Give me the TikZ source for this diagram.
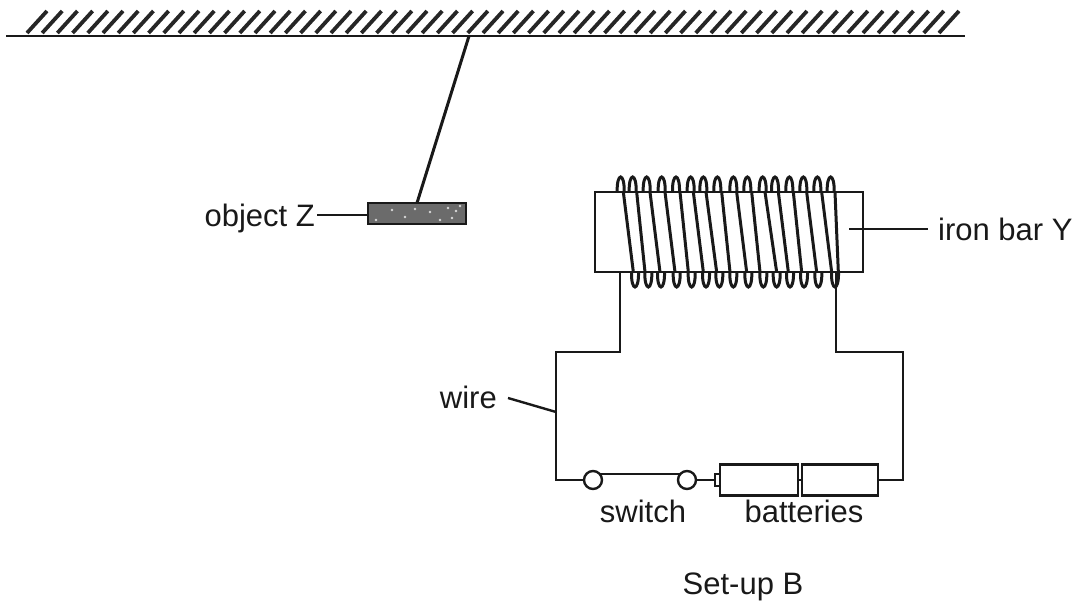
\documentclass[tikz,border=0pt]{standalone}
\usepackage{fontspec}
\setmainfont{Liberation Sans}
\tikzset{
  ink/.style={line width=2.4pt,draw=black!90},
  hatchline/.style={line width=3.8pt,draw=black!85},
  coilline/.style={line width=3pt,draw=black!90},
  lbl/.style={inner sep=0pt,text=black!90,font=\fontsize{31}{33}\selectfont},
  boxshape/.style={draw=black!90,line width=2.4pt,fill=white,inner sep=0pt,outer sep=0pt,rectangle},
  swnode/.style={draw=black!90,line width=2.4pt,circle,minimum size=18pt,inner sep=0pt,outer sep=0pt},
}
\begin{document}
\begin{tikzpicture}[x=1pt,y=-1pt]
\useasboundingbox (0,0) rectangle (1080,604);
% ceiling
\coordinate (ceilL) at (6,36);
\coordinate (ceilR) at (965,36);
\coordinate (hang) at (469,36);
\draw[ink] (ceilL) -- (ceilR);
\foreach \i in {0,...,60} {
  \draw[hatchline] ({27+\i*15.2},33) -- ({47+\i*15.2},11);
}
% object Z
\node[boxshape,fill=black!58,minimum width=98pt,minimum height=21pt,anchor=north west] (Z) at (368,203) {};
\foreach \a/\b in {448/208,456/211,452/218,460/206,376/220,405/217,430/212,392/210,415/209,440/220}
  \fill[white!85!black] (\a,\b) circle (1.3pt);
\coordinate (Ztop) at (417,203);
\draw[line width=3pt,draw=black!90] (hang) -- (Ztop);
\node[lbl,anchor=east] (objZ) at (315,218) {object Z};
\coordinate (Zleft) at (368,215);
\coordinate (objZend) at (317,215);
\draw[ink] (objZend) -- (Zleft);
% iron bar
\node[boxshape,minimum width=268pt,minimum height=80pt,anchor=north west] (bar) at (595,192) {};
% coil loops above and below the bar
\foreach \t in {122,158,200,245,288,332,370,412,460,502,548,585,628,670,712,752} {
  \draw[coilline] ({580+\t/3-3.5},192) .. controls ({580+\t/3-4},172) and ({580+\t/3+4},172) .. ({580+\t/3+3.5},192);
}
\foreach \b in {165,205,243,290,335,378,418,460,505,550,590,630,672,715,765} {
  \draw[coilline] ({580+\b/3-3.5},272) .. controls ({580+\b/3-4},292) and ({580+\b/3+4},292) .. ({580+\b/3+3.5},272);
}
\foreach \t/\b in {130/160,170/195,210/240,255/285,300/325,340/370,378/410,425/450,470/500,515/540,555/590,595/625,640/665,680/710,725/755,765/775} {
  \draw[coilline] ({580+\t/3},192) -- ({580+\b/3},272);
}
% bar label
\node[lbl,anchor=west] (barlbl) at (938,229) {iron bar Y};
\coordinate (barpt) at (849,229);
\coordinate (barend) at (928,229);
\draw[ink] (barpt) -- (barend);
% circuit
\node[swnode] (s1) at (593,480) {};
\node[swnode] (s2) at (687,480) {};
\node[boxshape,minimum width=5pt,minimum height=12pt,anchor=east] (cap) at (720,480) {};
\node[boxshape,minimum width=78pt,minimum height=31pt,anchor=north west] (b1) at (720,464.5) {};
\node[boxshape,minimum width=76pt,minimum height=31pt,anchor=north west] (b2) at (802,464.5) {};
\coordinate (LW) at (620,272);
\coordinate (RW) at (836,272);
\coordinate (swA) at (600,474);
\coordinate (swB) at (680,474);
\draw[ink] (LW) -- (620,352) -- (556,352) -- (556,480) -- (s1.west);
\draw[ink] (swA) -- (swB);
\draw[ink] (s2.east) -- (cap.west);
\draw[ink] (b1.east) -- (b2.west);
\draw[ink] (b2.east) -- (903,480) -- (903,352) -- (836,352) -- (RW);
\node[lbl,anchor=east] (wirelbl) at (497,397) {wire};
\coordinate (wirestart) at (508,398);
\coordinate (wiretip) at (556,412);
\draw[ink] (wirestart) -- (wiretip);
\node[lbl] (swlbl) at (643,511) {switch};
\node[lbl] (batlbl) at (804,511) {batteries};
\node[lbl] (setup) at (743,587) {Set-up B};
\end{tikzpicture}
\end{document}
